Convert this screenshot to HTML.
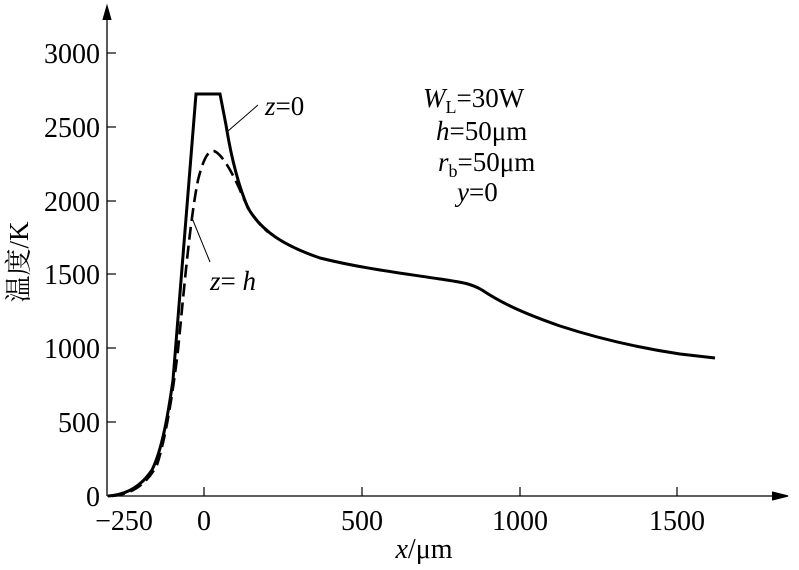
<!DOCTYPE html><html><head><style>body{margin:0;background:#fff}svg{font-family:"Liberation Serif","Noto Serif CJK SC",serif}</style></head><body>
<svg width="799" height="565" xmlns="http://www.w3.org/2000/svg">
<g stroke="#000" fill="none" stroke-width="1.3">
<line x1="107" y1="496" x2="107" y2="8"/>
<line x1="107" y1="496" x2="785" y2="496"/>
<path d="M103,20 L107,6 L111,20" fill="#000"/>
<path d="M772,492 L788,496 L772,500" fill="#000"/>
<g stroke-width="1.2">
<line x1="107" y1="53" x2="116" y2="53"/><line x1="107" y1="127" x2="116" y2="127"/><line x1="107" y1="201" x2="116" y2="201"/><line x1="107" y1="274" x2="116" y2="274"/><line x1="107" y1="348" x2="116" y2="348"/><line x1="107" y1="422" x2="116" y2="422"/>
<line x1="204" y1="496" x2="204" y2="487"/><line x1="362" y1="496" x2="362" y2="487"/><line x1="520" y1="496" x2="520" y2="487"/><line x1="677" y1="496" x2="677" y2="487"/>
</g>
<path stroke-width="3" d="M108,496 C125,495 140,488 152,470 C162,450 168,415 173,380 L196,94 L220,94 L226,125 C230,150 236,180 248,208 C262,232 285,246 320,258 C360,268 400,273 440,279 C460,282 470,283 482,290 C500,302 520,312 560,326 C600,339 640,348 680,354 L715,358"/>
<path stroke-width="2.6" stroke-dasharray="13,6" d="M112,496 C130,494 145,487 157,465 C165,440 172,400 178,350 C184,290 190,220 198,180 C203,160 208,150 214,151 C222,154 232,172 240,190 C248,210 256,222 268,232"/>
<line x1="258" y1="105" x2="228" y2="131" stroke-width="1"/>
<line x1="210" y1="262" x2="192" y2="218" stroke-width="1"/>
</g>
<g font-size="28" text-anchor="end">
<text x="100" y="63">3000</text><text x="100" y="137">2500</text><text x="100" y="211">2000</text><text x="100" y="284">1500</text><text x="100" y="358">1000</text><text x="100" y="432">500</text><text x="100" y="506">0</text>
</g>
<g font-size="28" text-anchor="middle">
<text x="124" y="530">−250</text><text x="204" y="530">0</text><text x="362" y="530">500</text><text x="520" y="530">1000</text><text x="677" y="530">1500</text>
<text x="424" y="558"><tspan font-style="italic">x</tspan>/μm</text>
</g>
<text transform="translate(28,262) rotate(-90)" font-size="27" text-anchor="middle">温度/K</text>
<g font-size="27">
<text x="265" y="115"><tspan font-style="italic">z</tspan>=0</text>
<text x="210" y="290"><tspan font-style="italic">z</tspan>= <tspan font-style="italic">h</tspan></text>
<text x="423" y="107"><tspan font-style="italic">W</tspan><tspan font-size="18" dy="6">L</tspan><tspan dy="-6">=30W</tspan></text>
<text x="436" y="140"><tspan font-style="italic">h</tspan>=50μm</text>
<text x="438" y="171"><tspan font-style="italic">r</tspan><tspan font-size="18" dy="6">b</tspan><tspan dy="-6">=50μm</tspan></text>
<text x="457" y="201"><tspan font-style="italic">y</tspan>=0</text>
</g>
</svg></body></html>
